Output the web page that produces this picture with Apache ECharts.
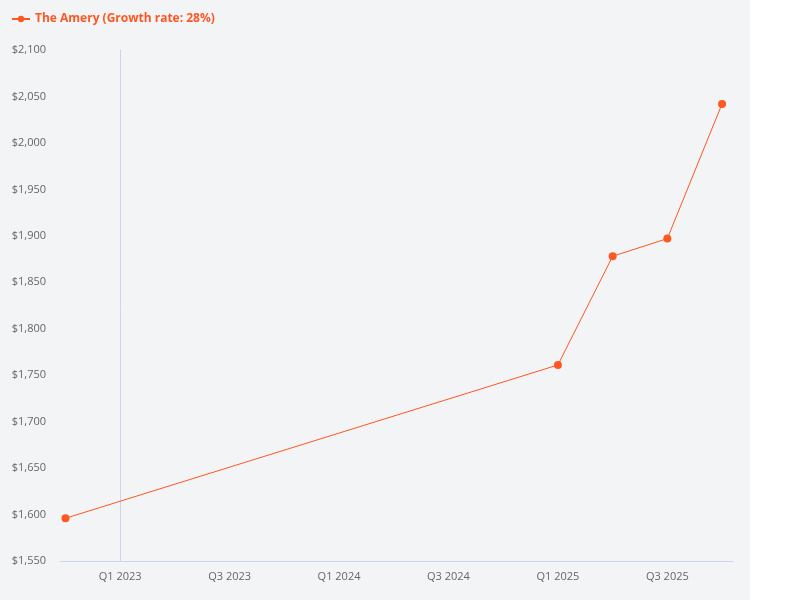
<!DOCTYPE html>
<html>
<head>
<meta charset="utf-8">
<script src="https://cdn.jsdelivr.net/npm/echarts@6/dist/echarts.min.js"></script>
<style>html,body{margin:0;padding:0;background:#fff;}#chart{width:800px;height:600px;}</style>
</head>
<body>
<div id="chart"></div>
<script>
// 数据
var seriesName = 'The Amery (Growth rate: 28%)';
var pointDates = ['2022-10', '2025-01', '2025-04', '2025-07', '2025-10'];
var prices = [1596, 1761, 1878, 1897, 2042];
var tickMonths = [0, 6, 12, 18, 24, 30];
var tickLabels = ['Q1 2023', 'Q3 2023', 'Q1 2024', 'Q3 2024', 'Q1 2025', 'Q3 2025'];

// 以 2023-01 为零点的月份
function toMonth(s) {
	var p = s.split('-');
	return (parseInt(p[0]) - 2023) * 12 + parseInt(p[1]) - 1;
}
var data = pointDates.map(function (d, i) { return [toMonth(d), prices[i]]; });

var chart = echarts.init(document.getElementById('chart'));
chart.setOption({
	textStyle: { fontFamily: 'Open Sans' },
	graphic: [{
		type: 'rect', z: -10, silent: true,
		shape: { x: 0, y: 0, width: 750, height: 600 },
		style: { fill: '#f3f4f6' }
	}],
	legend: {
		left: 6, top: 8,
		itemWidth: 18, itemHeight: 8,
		textStyle: { color: '#ff5722', fontWeight: 'bold', fontSize: 12 },
		data: [seriesName]
	},
	grid: { left: 60, right: 67, top: 50, bottom: 39 },
	xAxis: {
		type: 'value',
		min: -3.3, max: 33.6,
		splitLine: { show: false },
		axisLine: { show: true, lineStyle: { color: '#ccd6eb' } },
		axisTick: { show: false },
		axisLabel: {
			color: '#666', fontSize: 11, margin: 10,
			customValues: tickMonths,
			formatter: function (v) { return tickLabels[tickMonths.indexOf(v)] || ''; }
		}
	},
	yAxis: {
		type: 'value',
		min: 1550, max: 2100, interval: 50,
		splitLine: { show: false },
		axisLine: { show: true, lineStyle: { color: '#ccd6eb' } },
		axisTick: { show: false },
		axisLabel: {
			color: '#666', fontSize: 11, margin: 14,
			formatter: function (v) { return '$' + v.toLocaleString('en-US'); }
		}
	},
	series: [{
		name: seriesName,
		type: 'line',
		data: data,
		symbol: 'circle', symbolSize: 8,
		itemStyle: { color: '#ff5722' },
		lineStyle: { color: '#ff5722', width: 1 }
	}]
});
</script>
</body>
</html>
